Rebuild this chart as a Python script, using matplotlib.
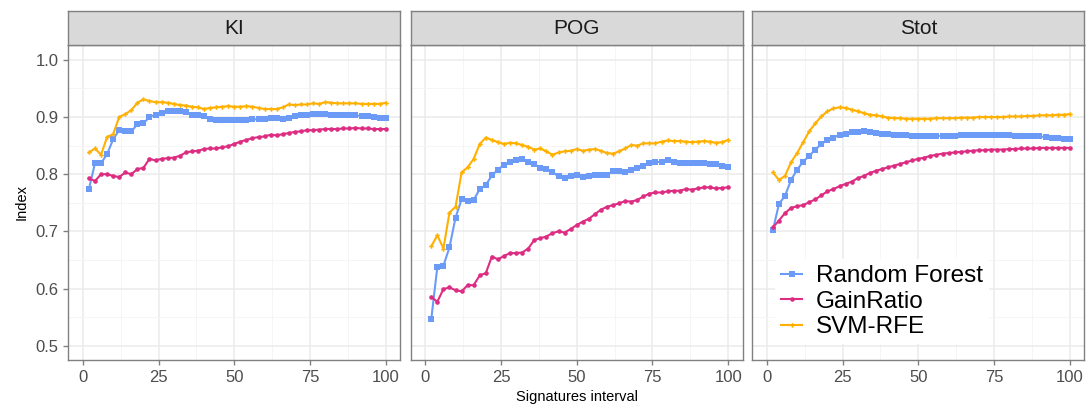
import numpy as np
from matplotlib import pyplot as plt
from matplotlib import font_manager

# signature sizes on the x axis
sizes = list(range(2, 101, 2))
panels = ["KI", "POG", "Stot"]
methods = ["Random Forest", "GainRatio", "SVM-RFE"]

ki_rf = [0.774, 0.819, 0.819, 0.835, 0.861, 0.877, 0.875, 0.875, 0.887, 0.889,
         0.900, 0.904, 0.907, 0.910, 0.911, 0.911, 0.908, 0.904, 0.903, 0.901,
         0.896, 0.894, 0.894, 0.894, 0.895, 0.895, 0.895, 0.896, 0.896, 0.897,
         0.898, 0.899, 0.897, 0.899, 0.901, 0.903, 0.904, 0.905, 0.905, 0.906,
         0.904, 0.903, 0.904, 0.903, 0.903, 0.902, 0.901, 0.900, 0.899, 0.898]
ki_gr = [0.793, 0.788, 0.800, 0.800, 0.797, 0.795, 0.803, 0.800, 0.809, 0.811,
         0.827, 0.824, 0.827, 0.828, 0.829, 0.832, 0.838, 0.840, 0.841, 0.844,
         0.845, 0.845, 0.847, 0.849, 0.853, 0.857, 0.860, 0.863, 0.865, 0.866,
         0.869, 0.868, 0.870, 0.872, 0.874, 0.875, 0.877, 0.877, 0.878, 0.879,
         0.879, 0.879, 0.880, 0.880, 0.881, 0.880, 0.880, 0.879, 0.879, 0.879]
ki_svm = [0.838, 0.845, 0.834, 0.865, 0.870, 0.900, 0.905, 0.912, 0.925, 0.931,
          0.928, 0.926, 0.926, 0.925, 0.923, 0.921, 0.920, 0.918, 0.917, 0.914,
          0.916, 0.917, 0.918, 0.919, 0.918, 0.918, 0.919, 0.918, 0.916, 0.914,
          0.914, 0.914, 0.917, 0.922, 0.921, 0.922, 0.922, 0.924, 0.923, 0.926,
          0.925, 0.924, 0.924, 0.924, 0.924, 0.923, 0.923, 0.923, 0.923, 0.925]

pog_rf = [0.547, 0.638, 0.640, 0.672, 0.724, 0.756, 0.753, 0.755, 0.774, 0.781,
          0.798, 0.808, 0.816, 0.822, 0.824, 0.826, 0.822, 0.818, 0.811, 0.809,
          0.804, 0.796, 0.793, 0.796, 0.799, 0.795, 0.797, 0.799, 0.799, 0.799,
          0.805, 0.805, 0.804, 0.808, 0.811, 0.815, 0.819, 0.821, 0.822, 0.824,
          0.822, 0.820, 0.820, 0.820, 0.819, 0.819, 0.818, 0.817, 0.815, 0.812]
pog_gr = [0.585, 0.577, 0.599, 0.602, 0.597, 0.595, 0.606, 0.606, 0.623, 0.627,
          0.656, 0.651, 0.657, 0.662, 0.662, 0.663, 0.670, 0.685, 0.688, 0.691,
          0.697, 0.700, 0.698, 0.704, 0.711, 0.717, 0.722, 0.730, 0.738, 0.743,
          0.746, 0.749, 0.753, 0.752, 0.755, 0.761, 0.766, 0.768, 0.768, 0.770,
          0.771, 0.771, 0.774, 0.773, 0.775, 0.777, 0.777, 0.775, 0.776, 0.777]
pog_svm = [0.674, 0.693, 0.670, 0.733, 0.743, 0.803, 0.812, 0.827, 0.853, 0.864,
           0.860, 0.856, 0.853, 0.855, 0.854, 0.851, 0.848, 0.843, 0.845, 0.840,
           0.834, 0.838, 0.840, 0.841, 0.844, 0.841, 0.843, 0.844, 0.841, 0.837,
           0.836, 0.840, 0.845, 0.851, 0.850, 0.854, 0.854, 0.854, 0.857, 0.859,
           0.858, 0.858, 0.857, 0.856, 0.857, 0.858, 0.857, 0.855, 0.856, 0.860]

stot_rf = [0.702, 0.748, 0.762, 0.790, 0.808, 0.822, 0.832, 0.843, 0.853, 0.860,
           0.864, 0.869, 0.871, 0.873, 0.874, 0.875, 0.874, 0.872, 0.871, 0.870,
           0.869, 0.868, 0.868, 0.867, 0.867, 0.867, 0.867, 0.867, 0.867, 0.867,
           0.867, 0.868, 0.868, 0.868, 0.868, 0.868, 0.868, 0.868, 0.868, 0.868,
           0.867, 0.867, 0.866, 0.866, 0.866, 0.865, 0.864, 0.863, 0.862, 0.861]
stot_gr = [0.707, 0.719, 0.732, 0.741, 0.744, 0.746, 0.751, 0.756, 0.763, 0.770,
           0.774, 0.779, 0.783, 0.787, 0.793, 0.797, 0.802, 0.806, 0.809, 0.812,
           0.815, 0.818, 0.821, 0.824, 0.827, 0.829, 0.832, 0.834, 0.836, 0.837,
           0.838, 0.839, 0.840, 0.841, 0.842, 0.842, 0.843, 0.843, 0.843, 0.844,
           0.844, 0.845, 0.845, 0.845, 0.846, 0.846, 0.846, 0.846, 0.846, 0.846]
stot_svm = [0.803, 0.790, 0.797, 0.821, 0.837, 0.856, 0.875, 0.889, 0.901, 0.910,
            0.915, 0.917, 0.916, 0.913, 0.910, 0.907, 0.904, 0.903, 0.901, 0.899,
            0.898, 0.898, 0.897, 0.897, 0.897, 0.897, 0.897, 0.898, 0.898, 0.898,
            0.898, 0.899, 0.899, 0.899, 0.900, 0.900, 0.900, 0.900, 0.900, 0.901,
            0.901, 0.901, 0.902, 0.902, 0.903, 0.903, 0.903, 0.904, 0.904, 0.905]

data = {
    "KI": [ki_rf, ki_gr, ki_svm],
    "POG": [pog_rf, pog_gr, pog_svm],
    "Stot": [stot_rf, stot_gr, stot_svm],
}

colors = ["#6C9BF7", "#DD2D82", "#FFB000"]
markers = ["s", "o", "P"]
msizes = [4.2, 3.3, 3.3]

names = {f.name for f in font_manager.fontManager.ttflist}
narrow = "Liberation Sans Narrow" if "Liberation Sans Narrow" in names else "Liberation Sans"
plt.rcParams["font.family"] = ["Liberation Sans", "DejaVu Sans"]

fig = plt.figure(figsize=(10.88, 4.05), dpi=100)
W, H = 1088, 405
lefts = [68.3, 410.7, 752.3]
pw = 332.0
top_px, bot_px, strip_top = 45, 360, 11

for i, name in enumerate(panels):
    ax = fig.add_axes([lefts[i] / W, 1 - bot_px / H, pw / W, (bot_px - top_px) / H])
    ax.set_xlim(-4.8, 104.8)
    ax.set_ylim(0.475, 1.026)
    ax.set_xticks([0, 25, 50, 75, 100])
    ax.set_xticks([12.5, 37.5, 62.5, 87.5], minor=True)
    ax.set_yticks([0.5, 0.6, 0.7, 0.8, 0.9, 1.0])
    ax.set_yticks([0.55, 0.65, 0.75, 0.85, 0.95], minor=True)
    ax.grid(True, which="major", color="#EBEBEB", lw=1.1, zorder=0)
    ax.grid(True, which="minor", color="#F4F4F4", lw=0.6, zorder=0)
    ax.set_axisbelow(True)
    for s in ax.spines.values():
        s.set_color("#808080")
        s.set_linewidth(1.0)
    ax.tick_params(which="major", length=3.5, width=1.0, color="#808080",
                   labelcolor="#4D4D4D", labelsize=12)
    ax.tick_params(which="minor", length=0)
    for lab in ax.get_xticklabels() + ax.get_yticklabels():
        lab.set_family(narrow)
    if i == 0:
        ax.set_yticklabels(["0.5", "0.6", "0.7", "0.8", "0.9", "1.0"])
        ax.set_ylabel("Index", fontsize=10.5, family=narrow, labelpad=5)
        for lab in ax.get_yticklabels():
            lab.set_family(narrow)
    else:
        ax.tick_params(axis="y", labelleft=False, length=0)
    if i == 1:
        ax.set_xlabel("Signatures interval", fontsize=10.5, family=narrow, labelpad=4)

    for j, m in enumerate(methods):
        ax.plot(sizes, data[name][j], color=colors[j], marker=markers[j],
                ms=msizes[j], mew=0, lw=1.5, label=m, zorder=3)

    if i == 2:
        leg = ax.legend(loc="center left", bbox_to_anchor=(0.033, 0.185), frameon=True,
                        fontsize=17.5, handlelength=0.85, handletextpad=0.55,
                        labelspacing=0.14, borderpad=0.25)
        leg.get_frame().set_facecolor("white")
        leg.get_frame().set_edgecolor("none")
        leg.get_frame().set_alpha(1.0)

    # facet strip
    sax = fig.add_axes([lefts[i] / W, 1 - top_px / H, pw / W, (top_px - strip_top) / H])
    sax.set_facecolor("#D9D9D9")
    sax.set_xticks([])
    sax.set_yticks([])
    for s in sax.spines.values():
        s.set_color("#808080")
        s.set_linewidth(1.0)
    sax.text(0.5, 0.48, name, ha="center", va="center", fontsize=15,
             color="#1A1A1A", transform=sax.transAxes)

plt.savefig("out.png", dpi=100)
